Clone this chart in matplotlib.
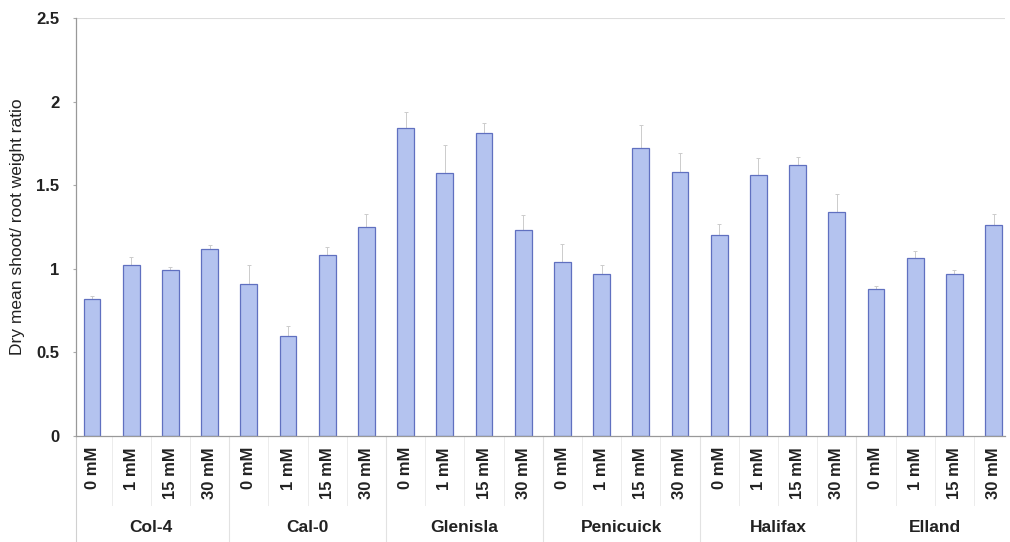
import matplotlib.pyplot as plt
import numpy as np

plt.rcParams["font.family"] = ["Liberation Sans", "DejaVu Sans"]

ecotypes = ["Col-4", "Cal-0", "Glenisla", "Penicuick", "Halifax", "Elland"]
treatments = ["0 mM", "1 mM", "15 mM", "30 mM"]

# shoot/root ratio per ecotype, in treatment order
ratio = [
    [0.82, 1.02, 0.99, 1.12],
    [0.91, 0.60, 1.08, 1.25],
    [1.84, 1.57, 1.81, 1.23],
    [1.04, 0.97, 1.72, 1.58],
    [1.20, 1.56, 1.62, 1.34],
    [0.88, 1.065, 0.97, 1.26],
]
sem = [
    [0.02, 0.05, 0.02, 0.02],
    [0.11, 0.055, 0.05, 0.08],
    [0.10, 0.17, 0.06, 0.09],
    [0.11, 0.05, 0.14, 0.11],
    [0.07, 0.10, 0.05, 0.11],
    [0.02, 0.04, 0.02, 0.07],
]

values = np.array(ratio).ravel()
errors = np.array(sem).ravel()
labels = treatments * len(ecotypes)
x = np.arange(len(values))

fig = plt.figure(figsize=(10.1, 5.42), dpi=100)
ax = fig.add_axes([0.0752, 0.1956, 0.9198, 0.7712])

ax.bar(x, values, width=0.43, color="#b4c3ef", edgecolor="#6070c0", linewidth=0.9, zorder=2)
ax.errorbar(x, values, yerr=[np.zeros_like(errors), errors], fmt="none",
            ecolor="#cccccc", elinewidth=0.7, capsize=1.5, capthick=0.7, zorder=1)

ax.set_xlim(-0.41, 23.29)
ax.set_ylim(0, 2.5)
ax.set_yticks([0, 0.5, 1, 1.5, 2, 2.5])
ax.set_yticklabels(["0", "0.5", "1", "1.5", "2", "2.5"])
ax.axhline(2.5, color="#dddddd", linewidth=0.8, zorder=0)

ax.set_xticks(x)
ax.set_xticklabels(labels, rotation=90, fontsize=12, fontweight="bold", color="#222222")
ax.tick_params(axis="x", length=0, pad=8)
ax.tick_params(axis="y", length=2, color="#aaaaaa", labelsize=12, pad=10)
for t in ax.get_yticklabels():
    t.set_fontweight("bold")
    t.set_color("#222222")

for side in ["top", "right"]:
    ax.spines[side].set_visible(False)
ax.spines["left"].set_color("#999999")
ax.spines["bottom"].set_color("#999999")
ax.spines["left"].set_linewidth(0.9)
ax.spines["bottom"].set_linewidth(0.9)

ax.set_ylabel("Dry mean shoot/ root weight ratio", fontsize=12.5, color="#222222")
ax.yaxis.set_label_coords(-0.055, 0.5)

# separators between tick labels and between ecotype groups
trans = ax.get_xaxis_transform()
for i in range(len(values) - 1):
    if (i + 1) % 4 == 0:
        ax.plot([i + 0.5, i + 0.5], [0, -0.26], color="#e2e2e2", linewidth=0.8,
                transform=trans, clip_on=False)
    else:
        ax.plot([i + 0.5, i + 0.5], [0, -0.165], color="#ececec", linewidth=0.7,
                transform=trans, clip_on=False)
ax.plot([-0.41, -0.41], [0, -0.26], color="#d0d0d0", linewidth=0.8,
        transform=trans, clip_on=False)

for g, name in enumerate(ecotypes):
    ax.text(g * 4 + 1.5, -0.218, name, transform=trans, ha="center", va="center",
            fontsize=12.5, fontweight="bold", color="#222222")

fig.savefig("out.png", dpi=100)
